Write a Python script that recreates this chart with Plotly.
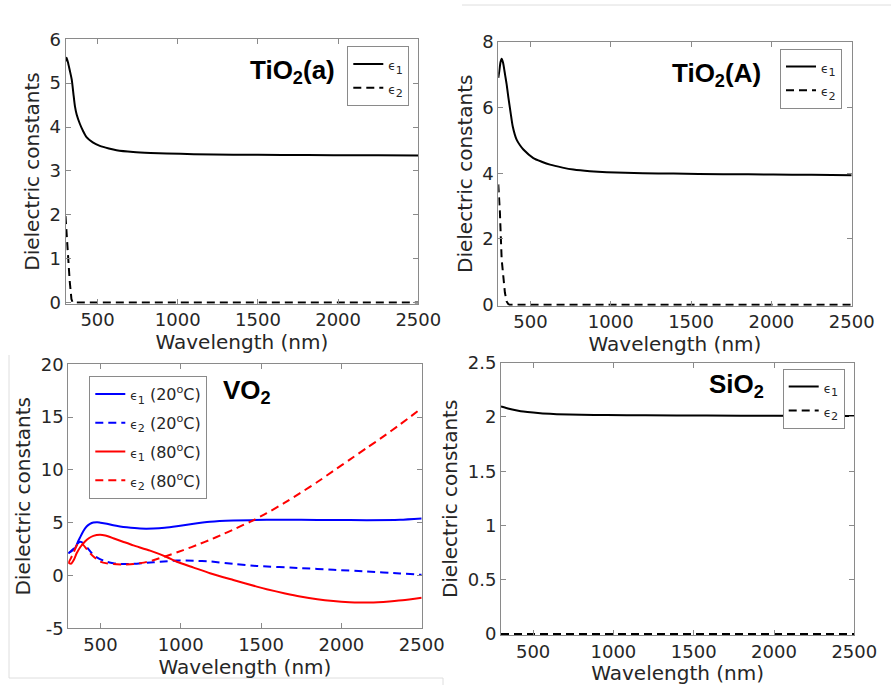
import plotly.graph_objects as go

# ---------------- data ----------------
x_ticks = [500, 1000, 1500, 2000, 2500]

# TiO2(a)
tio2a_wl_e1 = [300, 307, 317, 328, 339, 349, 359, 370, 390, 411, 431, 470, 514, 570, 618, 722, 830, 930, 1100, 1346, 1650, 1970, 2250, 2500]
tio2a_e1 = [5.50, 5.58, 5.45, 5.27, 5.08, 4.77, 4.47, 4.28, 4.07, 3.90, 3.77, 3.65, 3.57, 3.51, 3.47, 3.43, 3.41, 3.40, 3.38, 3.37, 3.365, 3.36, 3.355, 3.35]
tio2a_wl_e2 = [300, 308, 316, 326, 337, 345, 2500]
tio2a_e2 = [1.97, 1.5, 1.0, 0.5, 0.08, 0.0, 0.0]

# TiO2(A)
tio2A_wl_e1 = [300, 306, 314, 321, 330, 342, 352, 362, 377, 390, 414, 435, 456, 518, 570, 622, 700, 767, 870, 975, 1200, 1390, 1700, 2012, 2250, 2500]
tio2A_e1 = [6.9, 7.1, 7.38, 7.48, 7.35, 7.0, 6.7, 6.33, 5.83, 5.42, 5.02, 4.85, 4.72, 4.46, 4.35, 4.26, 4.17, 4.11, 4.06, 4.03, 4.0, 3.99, 3.97, 3.96, 3.95, 3.94]
tio2A_wl_e2 = [300, 310, 321, 331, 341, 352, 362, 370, 2500]
tio2A_e2 = [3.66, 2.8, 1.38, 0.75, 0.37, 0.1, 0.02, 0.0, 0.0]

# VO2
vo2_wl_e1_20 = [300, 320, 342, 360, 373, 393, 414, 435, 456, 480, 500, 540, 580, 622, 664, 747, 829, 900, 975, 1060, 1182, 1327, 1535, 1750, 1950, 2158, 2365, 2500]
vo2_e1_20 = [2.11, 2.3, 2.59, 3.2, 3.6, 4.2, 4.64, 4.88, 5.01, 5.05, 5.0, 4.9, 4.75, 4.64, 4.56, 4.45, 4.45, 4.52, 4.66, 4.85, 5.08, 5.2, 5.27, 5.27, 5.26, 5.24, 5.27, 5.39]
vo2_wl_e2_20 = [300, 330, 350, 373, 395, 420, 446, 470, 497, 540, 580, 640, 705, 790, 871, 975, 1080, 1182, 1327, 1473, 1750, 1950, 2158, 2365, 2500]
vo2_e2_20 = [2.1, 2.5, 2.9, 3.2, 3.05, 2.6, 2.12, 1.8, 1.55, 1.3, 1.17, 1.08, 1.1, 1.2, 1.3, 1.42, 1.4, 1.33, 1.1, 0.9, 0.7, 0.54, 0.38, 0.2, 0.06]
vo2_wl_e1_80 = [300, 318, 335, 352, 375, 404, 430, 456, 497, 530, 580, 640, 705, 809, 912, 975, 1080, 1182, 1327, 1473, 1535, 1650, 1743, 1850, 1950, 2050, 2116, 2200, 2261, 2380, 2500]
vo2_e1_80 = [1.2, 1.12, 1.5, 2.1, 2.7, 3.22, 3.55, 3.75, 3.85, 3.78, 3.53, 3.2, 2.85, 2.35, 1.75, 1.3, 0.75, 0.22, -0.42, -1.05, -1.3, -1.7, -1.99, -2.25, -2.42, -2.53, -2.56, -2.55, -2.5, -2.35, -2.1]
vo2_wl_e2_80 = [300, 315, 331, 345, 362, 380, 393, 415, 435, 460, 497, 540, 580, 640, 705, 770, 829, 912, 1016, 1120, 1182, 1250, 1327, 1431, 1535, 1640, 1743, 1850, 1950, 2050, 2158, 2260, 2365, 2500]
vo2_e2_80 = [1.17, 1.6, 2.1, 2.6, 3.06, 3.05, 2.9, 2.5, 2.12, 1.75, 1.33, 1.15, 1.08, 1.03, 1.08, 1.22, 1.45, 1.85, 2.4, 3.0, 3.38, 3.82, 4.35, 5.08, 5.9, 6.82, 7.8, 8.85, 9.9, 10.95, 12.08, 13.15, 14.3, 15.85]

# SiO2
sio2_wl_e1 = [300, 350, 400, 439, 500, 560, 647, 800, 958, 1200, 1581, 2000, 2500]
sio2_e1 = [2.096, 2.075, 2.06, 2.05, 2.04, 2.033, 2.026, 2.02, 2.017, 2.015, 2.013, 2.011, 2.01]
sio2_wl_e2 = [300, 2500]
sio2_e2 = [0.0, 0.0]

vo2_y_ticks = [-5, 0, 5, 10, 15, 20]
vo2_y_ticktext = ["-5", "0", "5", "10", "15", "20"]

# ---------------- figure ----------------
W, H = 891, 685
FONT = "DejaVu Sans"
TXT = "#262626"
AX = "#8a8a8a"
DASH = "8px,5px"

def px_x(v):
    return v / W

def px_y(v):
    return 1 - v / H

eps = "<span style='font-size:12px'>ϵ</span>"
lab1 = eps + "<sub>1</sub>"
lab2 = eps + "<sub>2</sub>"

fig = go.Figure()

def add(x, y, xa, ya, name, color, dash, legend, group, shape="spline"):
    fig.add_trace(go.Scatter(
        x=x, y=y, xaxis=xa, yaxis=ya, name=name, mode="lines",
        line=dict(color=color, width=2, dash=dash, shape=shape, smoothing=0.6 if shape == "spline" else None),
        legend=legend, legendgroup=group, hoverinfo="skip"))

add(tio2a_wl_e1, tio2a_e1, "x", "y", lab1, "black", "solid", "legend", "a1")
add(tio2a_wl_e2, tio2a_e2, "x", "y", lab2, "black", DASH, "legend", "a2", "linear")
add(tio2A_wl_e1, tio2A_e1, "x2", "y2", lab1, "black", "solid", "legend2", "b1")
add(tio2A_wl_e2, tio2A_e2, "x2", "y2", lab2, "black", DASH, "legend2", "b2", "linear")
add(vo2_wl_e1_20, vo2_e1_20, "x3", "y3", lab1 + " (20<sup>o</sup>C)", "#0000ff", "solid", "legend3", "c1")
add(vo2_wl_e2_20, vo2_e2_20, "x3", "y3", lab2 + " (20<sup>o</sup>C)", "#0000ff", DASH, "legend3", "c2")
add(vo2_wl_e1_80, vo2_e1_80, "x3", "y3", lab1 + " (80<sup>o</sup>C)", "#ff0000", "solid", "legend3", "c3")
add(vo2_wl_e2_80, vo2_e2_80, "x3", "y3", lab2 + " (80<sup>o</sup>C)", "#ff0000", DASH, "legend3", "c4")
add(sio2_wl_e1, sio2_e1, "x4", "y4", lab1, "black", "solid", "legend4", "d1")
add(sio2_wl_e2, sio2_e2, "x4", "y4", lab2, "black", DASH, "legend4", "d2", "linear")

def xaxis(dom, anchor):
    return dict(domain=dom, anchor=anchor, range=[300, 2500], tickvals=x_ticks, automargin=False,
                showline=True, linecolor=AX, linewidth=1, mirror="ticks",
                ticks="inside", ticklen=5, tickcolor=AX, showgrid=False, zeroline=False,
                tickfont=dict(family=FONT, size=18, color=TXT),
                title=dict(text="Wavelength (nm)", font=dict(family=FONT, size=20, color=TXT), standoff=2))

def yaxis(dom, anchor, rng, **kw):
    d = dict(domain=dom, anchor=anchor, range=rng, automargin=False,
             showline=True, linecolor=AX, linewidth=1, mirror="ticks",
             ticks="inside", ticklen=5, tickcolor=AX, showgrid=False, zeroline=False,
             tickfont=dict(family=FONT, size=18, color=TXT),
             title=dict(text="Dielectric constants", font=dict(family=FONT, size=20, color=TXT), standoff=4))
    d.update(kw)
    return d

p1x = [px_x(65.5), px_x(418.3)]; p1y = [px_y(303.7), px_y(39.3)]
p2x = [px_x(498.3), px_x(851.7)]; p2y = [px_y(305.7), px_y(41.7)]
p3x = [px_x(68.3), px_x(421.7)]; p3y = [px_y(628.3), px_y(364.3)]
p4x = [px_x(501), px_x(854.3)]; p4y = [px_y(635), px_y(362.7)]

def legend(xp, yp, gap):
    return dict(x=px_x(xp), y=px_y(yp), xanchor="left", yanchor="top",
                bgcolor="white", bordercolor=AX, borderwidth=1,
                font=dict(family=FONT, size=16, color=TXT),
                tracegroupgap=gap, itemclick=False, itemdoubleclick=False)

fig.update_layout(
    template="none",
    width=W, height=H, margin=dict(l=0, r=0, t=0, b=0, autoexpand=False),
    paper_bgcolor="white", plot_bgcolor="white", showlegend=True,
    xaxis=xaxis(p1x, "y"), yaxis=yaxis(p1y, "x", [-0.025, 6], dtick=1),
    xaxis2=xaxis(p2x, "y2"), yaxis2=yaxis(p2y, "x2", [-0.03, 8], dtick=2),
    xaxis3=xaxis(p3x, "y3"), yaxis3=yaxis(p3y, "x3", [-5, 20], tickvals=vo2_y_ticks, ticktext=vo2_y_ticktext),
    xaxis4=xaxis(p4x, "y4"), yaxis4=yaxis(p4y, "x4", [-0.009, 2.5], dtick=0.5),
    legend=legend(347.3, 46, 0),
    legend2=legend(780, 48.5, 0),
    legend3=legend(89.3, 376, 5),
    legend4=legend(782.7, 368.7, 0),
)

title_font = dict(family="Liberation Sans", size=26, color="black")
for txt, xr, yc in [("<b>TiO<sub>2</sub>(a)</b>", 336.7, 72),
                    ("<b>TiO<sub>2</sub>(A)</b>", 762.7, 75),
                    ("<b>VO<sub>2</sub></b>", 273.3, 392),
                    ("<b>SiO<sub>2</sub></b>", 766, 385)]:
    fig.add_annotation(text=txt, xref="paper", yref="paper", x=px_x(xr), y=px_y(yc),
                       xanchor="right", yanchor="middle", showarrow=False, font=title_font)

# faint frame remnants of the composite image
GRAY = "#dedede"
for x0, y0, x1, y1 in [(462, 5, 891, 5), (9, 355, 9, 678), (9, 678, 443, 678), (443, 678, 443, 685)]:
    fig.add_shape(type="line", xref="paper", yref="paper",
                  x0=px_x(x0), y0=px_y(y0), x1=px_x(x1), y1=px_y(y1),
                  line=dict(color=GRAY, width=1), layer="below")

fig.write_html("out.html", config={"displayModeBar": False},
               post_script="document.body.style.margin='0px';document.body.style.overflow='hidden';")
